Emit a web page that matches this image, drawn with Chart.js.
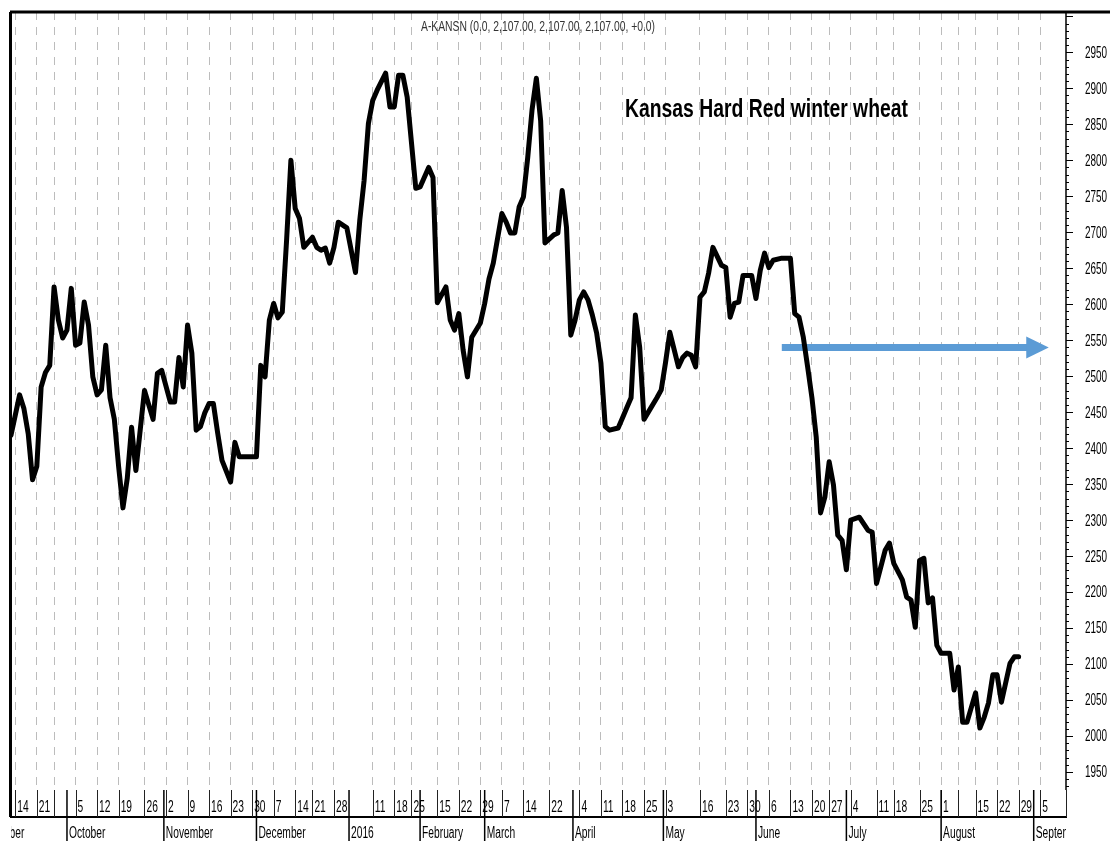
<!DOCTYPE html>
<html>
<head>
<meta charset="utf-8">
<script src="https://cdn.jsdelivr.net/npm/chart.js@4.4.0/dist/chart.umd.min.js"></script>
<style>
  html, body { margin: 0; padding: 0; background: #fff; }
  #wrap { width: 1110px; height: 841px; }
</style>
</head>
<body>
<div id="wrap"><canvas id="wheat"></canvas></div>
<script>
// trading day index and close price
var days = [0, 2, 3, 4, 5, 6, 7, 8, 9, 10, 11, 12, 13, 14, 15, 16, 17, 18, 19, 20,
  21, 22, 23, 24, 25, 26, 27, 28, 29, 30, 31, 33, 34, 35, 37, 38, 39, 40, 41, 42,
  43, 44, 45, 46, 47, 48, 49, 51, 52, 53, 55, 57, 58, 59, 60, 61, 62, 63, 64, 65,
  66, 67, 68, 70, 71, 72, 73, 74, 75, 76, 78, 80, 81, 82, 83, 84, 85, 87, 88, 89,
  90, 91, 92, 94, 95, 97, 98, 99, 101, 102, 103, 104, 105, 106, 107, 109, 110, 111, 112, 114,
  115, 116, 117, 118, 119, 120, 121, 122, 123, 124, 126, 127, 128, 129, 130, 131, 132, 133, 134, 135,
  136, 137, 138, 139, 141, 142, 143, 144, 145, 146, 147, 148, 150, 151, 152, 153, 155, 156, 157, 158,
  159, 160, 161, 162, 163, 165, 166, 167, 168, 169, 170, 172, 173, 174, 175, 176, 177, 179, 181, 182,
  183, 184, 185, 186, 187, 188, 189, 190, 191, 192, 193, 194, 195, 197, 199, 200, 201, 203, 204, 205,
  207, 208, 209, 210, 211, 212, 213, 214, 215, 216, 218, 219, 220, 221, 222, 224, 225, 226, 227, 228,
  229, 230, 232, 233, 234];
var prices = [2418, 2474, 2455, 2420, 2356, 2375, 2485, 2505, 2515, 2624, 2578, 2553, 2564, 2622, 2543, 2546, 2603, 2571, 2499, 2474,
  2481, 2543, 2470, 2440, 2374, 2317, 2358, 2429, 2369, 2425, 2480, 2440, 2504, 2508, 2464, 2464, 2526, 2485, 2571, 2532,
  2425, 2430, 2449, 2462, 2462, 2421, 2383, 2353, 2408, 2388, 2388, 2388, 2515, 2499, 2578, 2601, 2581, 2589, 2689, 2800,
  2733, 2719, 2679, 2693, 2679, 2675, 2678, 2657, 2679, 2714, 2706, 2644, 2717, 2772, 2851, 2883, 2897, 2921, 2874, 2874,
  2918, 2918, 2888, 2761, 2763, 2790, 2776, 2602, 2624, 2578, 2564, 2587, 2536, 2499, 2554, 2574, 2601, 2635, 2657, 2726,
  2714, 2699, 2699, 2735, 2749, 2804, 2870, 2914, 2855, 2685, 2696, 2699, 2758, 2707, 2557, 2578, 2606, 2617, 2606, 2585,
  2560, 2518, 2430, 2425, 2428, 2442, 2456, 2470, 2585, 2540, 2440, 2450, 2470, 2481, 2519, 2561, 2513, 2526, 2532, 2529,
  2513, 2610, 2617, 2643, 2679, 2654, 2651, 2582, 2601, 2603, 2640, 2640, 2608, 2647, 2671, 2651, 2661, 2664, 2664, 2587,
  2582, 2554, 2513, 2470, 2415, 2310, 2332, 2381, 2349, 2279, 2272, 2231, 2300, 2304, 2286, 2283, 2212, 2258, 2268, 2240,
  2217, 2193, 2189, 2151, 2244, 2247, 2185, 2192, 2126, 2115, 2115, 2064, 2096, 2019, 2019, 2060, 2011, 2026, 2046, 2085,
  2085, 2047, 2101, 2110, 2110];

// weekly date ticks (trading day index) and their labels
var weekDays = [1, 6, 10, 15, 20, 25, 31, 36, 41, 46, 51, 56, 61, 66, 70, 75, 84, 89, 93, 99,
  104, 109, 114, 119, 125, 132, 137, 142, 147, 152, 160, 166, 171, 176, 181, 186, 190, 195, 201, 205,
  211, 216, 220, 224, 229, 234, 239];
var weekLabels = ["14", "21", "", "5", "12", "19", "26", "2", "9", "16", "23", "30", "7", "14", "21", "28", "11", "18", "25", "15",
  "22", "29", "7", "14", "22", "4", "11", "18", "25", "3", "16", "23", "30", "6", "13", "20", "27", "4", "11", "18",
  "25", "1", "", "15", "22", "29", "5"];

// month boundaries
var monthDays = [-9, 13, 35.5, 57, 78.5, 95, 110, 130.5, 151.5, 173, 194, 216, 237.5];
var monthLabels = ["September", "October", "November", "December", "2016", "February", "March", "April", "May", "June", "July", "August", "September"];

// price axis
var yMin = 1925;
var yMax = 3006;
var labelStep = 50;
var minorStep = 10;

var headerText = "A-KANSN (0.0, 2,107.00, 2,107.00, 2,107.00, +0.0)";
var noteText = "Kansas Hard Red winter wheat";

// blue arrow: shaft start, shaft end, tip
var arrowDays = [179, 236, 241];
var arrowLevel = 2540;

function squeezeText(ctx, text, x, y, sx, align) {
  ctx.save();
  ctx.translate(x, y);
  ctx.scale(sx, 1);
  ctx.textAlign = align || "left";
  ctx.fillText(text, 0, 0);
  ctx.restore();
}

function fitText(ctx, text, x, y, width) {
  var w = ctx.measureText(text).width;
  squeezeText(ctx, text, x, y, width / w, "left");
}

const frame = {
  id: "frame",
  afterDatasetsDraw(chart) {
    const ctx = chart.ctx;
    const xs = chart.scales.x;
    const ys = chart.scales.y;
    // arrow head
    const x1 = xs.getPixelForValue(arrowDays[1]);
    const x2 = xs.getPixelForValue(arrowDays[2]);
    const ay = ys.getPixelForValue(arrowLevel);
    ctx.save();
    ctx.fillStyle = "#5b9bd5";
    ctx.beginPath();
    ctx.moveTo(x1 - 1, ay - 11);
    ctx.lineTo(x2, ay);
    ctx.lineTo(x1 - 1, ay + 11);
    ctx.closePath();
    ctx.fill();
    ctx.restore();
  },
  afterDraw(chart) {
    const ctx = chart.ctx;
    const a = chart.chartArea;
    const xs = chart.scales.x;
    const ys = chart.scales.y;
    const W = chart.width;
    const H = chart.height;
    const rowBottom = a.bottom + 27;
    ctx.save();
    ctx.strokeStyle = "#000";
    ctx.fillStyle = "#000";

    // frame lines
    ctx.lineWidth = 3;
    ctx.beginPath();
    ctx.moveTo(a.left - 1, a.top);
    ctx.lineTo(W, a.top);
    ctx.moveTo(a.left - 0.5, a.top);
    ctx.lineTo(a.left - 0.5, rowBottom);
    ctx.stroke();

    // price axis
    ctx.lineWidth = 1.5;
    ctx.beginPath();
    ctx.moveTo(a.right, a.top);
    ctx.lineTo(a.right, a.bottom);
    ctx.stroke();
    ctx.lineWidth = 1.2;
    ctx.beginPath();
    for (var v = Math.ceil(yMin / minorStep) * minorStep; v <= yMax; v += minorStep) {
      var py = Math.round(ys.getPixelForValue(v)) + 0.5;
      var len = v % labelStep === 0 ? 7 : 3;
      ctx.moveTo(a.right, py);
      ctx.lineTo(a.right + len, py);
    }
    ctx.stroke();
    ctx.font = '16px "Liberation Sans", Arial, sans-serif';
    ctx.textBaseline = "middle";
    for (var v = Math.ceil(yMin / labelStep) * labelStep; v <= 2950; v += labelStep) {
      squeezeText(ctx, String(v), a.right + 19, ys.getPixelForValue(v) + 1, 0.62, "left");
    }

    // date row
    ctx.lineWidth = 2;
    ctx.beginPath();
    ctx.moveTo(a.left - 1, rowBottom);
    ctx.lineTo(a.right + 1, rowBottom);
    ctx.stroke();
    ctx.lineWidth = 1;
    ctx.strokeStyle = "#222";
    ctx.beginPath();
    weekDays.forEach(function (d) {
      var px = Math.round(xs.getPixelForValue(d)) + 0.5;
      ctx.moveTo(px, a.bottom);
      ctx.lineTo(px, rowBottom);
    });
    ctx.moveTo(a.right + 0.5, a.bottom);
    ctx.lineTo(a.right + 0.5, rowBottom);
    ctx.stroke();
    ctx.lineWidth = 1.5;
    ctx.strokeStyle = "#000";
    ctx.beginPath();
    monthDays.forEach(function (d) {
      var px = xs.getPixelForValue(d);
      if (px < a.left || px > a.right) return;
      ctx.moveTo(px, a.bottom);
      ctx.lineTo(px, H);
    });
    ctx.stroke();

    ctx.textBaseline = "alphabetic";
    ctx.font = '16px "Liberation Sans", Arial, sans-serif';
    weekDays.forEach(function (d, i) {
      if (!weekLabels[i]) return;
      squeezeText(ctx, weekLabels[i], xs.getPixelForValue(d) + 2, a.bottom + 22, 0.64, "left");
    });
    ctx.save();
    ctx.beginPath();
    ctx.rect(a.left, rowBottom, a.right - a.left, H - rowBottom);
    ctx.clip();
    monthDays.forEach(function (d, i) {
      squeezeText(ctx, monthLabels[i], xs.getPixelForValue(d) + 2, H - 3, 0.64, "left");
    });
    ctx.restore();

    // header and note
    ctx.fillStyle = "#333";
    ctx.font = '14px "Liberation Sans", Arial, sans-serif';
    fitText(ctx, headerText, 421, a.top + 19, 234);
    ctx.fillStyle = "#000";
    ctx.font = 'bold 25px "Liberation Sans", Arial, sans-serif';
    fitText(ctx, noteText, 625, 117, 283);
    ctx.restore();
  }
};

const ctx = document.getElementById("wheat").getContext("2d");
const chart = new Chart(ctx, {
  type: "line",
  data: {
    datasets: [
      {
        label: "A-KANSN",
        data: days.map((d, i) => ({ x: d, y: prices[i] })),
        borderColor: "#000",
        borderWidth: 5,
        pointRadius: 0,
        tension: 0,
        borderJoinStyle: "round",
        borderCapStyle: "round",
        fill: false,
      },
      {
        label: "arrow",
        data: [
          { x: arrowDays[0], y: arrowLevel },
          { x: arrowDays[1], y: arrowLevel },
        ],
        borderColor: "#5b9bd5",
        borderWidth: 7,
        pointRadius: 0,
        borderCapStyle: "butt",
        fill: false,
      },
    ],
  },
  options: {
    responsive: true,
    maintainAspectRatio: false,
    animation: false,
    layout: { padding: { left: 11, top: 12, right: 0, bottom: 0 } },
    plugins: {
      legend: { display: false },
      tooltip: { enabled: false },
    },
    scales: {
      x: {
        type: "linear",
        min: 0,
        max: 245,
        afterBuildTicks: (s) => {
          s.ticks = weekDays.map((v) => ({ value: v }));
        },
        afterFit: (s) => {
          s.height = 51;
        },
        ticks: { display: false },
        grid: { color: "#bcbcbc", lineWidth: 1, drawTicks: false },
        border: { display: false, dash: [8, 7] },
      },
      y: {
        type: "linear",
        position: "right",
        min: yMin,
        max: yMax,
        afterFit: (s) => {
          s.width = 44;
        },
        ticks: { display: false },
        grid: { display: false },
        border: { display: false },
      },
    },
  },
  plugins: [frame],
});
</script>
</body>
</html>
